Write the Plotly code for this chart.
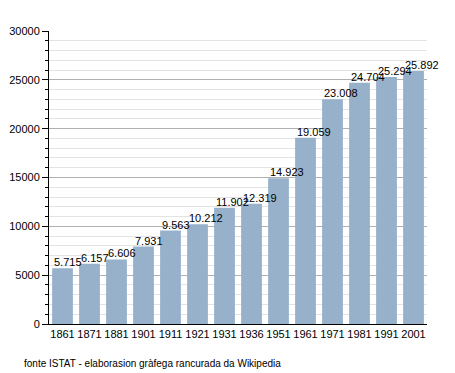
import plotly.graph_objects as go

years = ["1861", "1871", "1881", "1901", "1911", "1921", "1931", "1936",
         "1951", "1961", "1971", "1981", "1991", "2001"]
population = [5715, 6157, 6606, 7931, 9563, 10212, 11902, 12319,
              14923, 19059, 23008, 24704, 25294, 25892]
labels = ["5.715", "6.157", "6.606", "7.931", "9.563", "10.212", "11.902", "12.319",
          "14.923", "19.059", "23.008", "24.704", "25.294", "25.892"]
y_ticks = [0, 5000, 10000, 15000, 20000, 25000, 30000]

fig = go.Figure()
fig.add_trace(go.Bar(x=years, y=population, marker_color="#97b1cb",
                     marker_line_width=0, hoverinfo="skip"))

font = "Liberation Sans, Arial, sans-serif"
for i, (v, lab) in enumerate(zip(population, labels)):
    fig.add_annotation(x=i, y=v, text=lab, showarrow=False, xanchor="left",
                       yanchor="bottom", xshift=-11, yshift=-2,
                       font=dict(family=font, size=11, color="#000"))

fig.add_annotation(xref="paper", yref="paper", x=-0.072, y=-0.108,
                   text="fonte ISTAT - elaborasion gràfega rancurada da Wikipedia",
                   showarrow=False, xanchor="left", yanchor="top",
                   font=dict(family=font, size=10, color="#000"))

fig.update_layout(
    width=455, height=373,
    margin=dict(l=49, r=28, t=31, b=49, autoexpand=False),
    paper_bgcolor="white", plot_bgcolor="white",
    bargap=0.23, showlegend=False,
    font=dict(family=font, size=11, color="#000"),
    xaxis=dict(type="category", range=[-0.5, len(years) - 0.5],
               showline=True, linecolor="#000", linewidth=1, ticks="",
               tickfont=dict(size=11), automargin=False, fixedrange=True),
    yaxis=dict(range=[0, 30000], tickvals=y_ticks, ticktext=[str(t) for t in y_ticks],
               showline=True, linecolor="#000", linewidth=1,
               ticks="outside", ticklen=6, tickcolor="#000",
               showgrid=True, gridcolor="#b0b0b0", gridwidth=1, zeroline=False,
               minor=dict(dtick=1000, ticks="outside", ticklen=3, tickcolor="#000",
                          showgrid=True, gridcolor="#e3e3e3", gridwidth=1),
               tickfont=dict(size=11), automargin=False, fixedrange=True),
)

fig.write_html("out.html", config={"displayModeBar": False},
               post_script="document.body.style.margin='0';")
